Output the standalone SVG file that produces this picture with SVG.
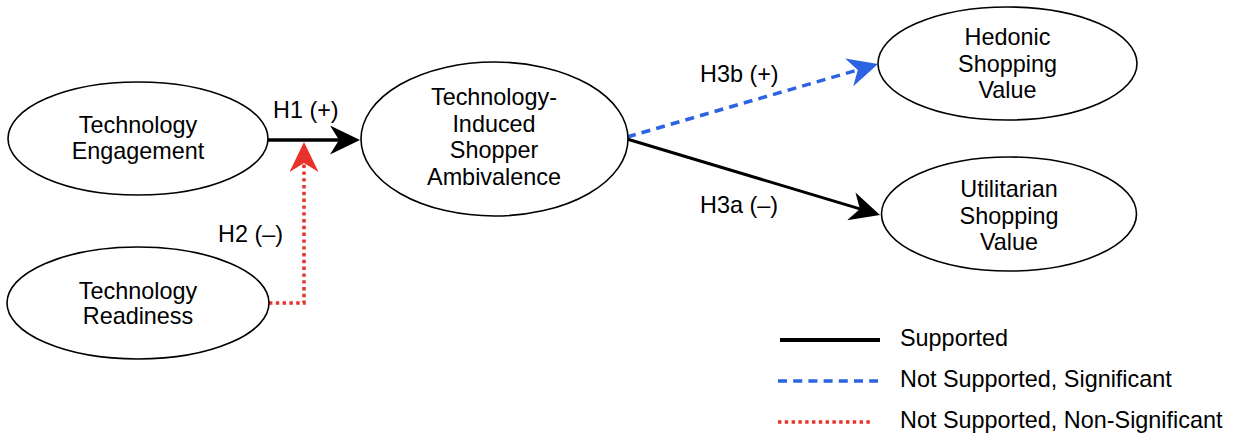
<svg xmlns="http://www.w3.org/2000/svg" width="1237" height="438" viewBox="0 0 1237 438">
  <style>
    .node ellipse { fill: #ffffff; stroke: #000000; stroke-width: 1.6; }
    text { font-family: "Liberation Sans", Arial, Helvetica, sans-serif; font-size: 23.4px; fill: #000000; }
    .node text { text-anchor: middle; }
    .supported { fill: none; stroke: #000000; stroke-width: 3.5; }
    .significant { fill: none; stroke: #2b63e0; stroke-width: 3.5; stroke-dasharray: 9 6.2; }
    .nonsig { fill: none; stroke: #e8322b; stroke-width: 3.5; stroke-dasharray: 3.4 3.4; }
  </style>
  <defs>
    <marker id="arrow-black" viewBox="0 0 30 29" refX="9" refY="14.5" markerWidth="30" markerHeight="29" markerUnits="userSpaceOnUse" orient="auto">
      <path d="M0,0 L30,14.5 L0,29 L9,14.5 Z" fill="#000000"/>
    </marker>
    <marker id="arrow-blue" viewBox="0 0 30 29" refX="9" refY="14.5" markerWidth="30" markerHeight="29" markerUnits="userSpaceOnUse" orient="auto">
      <path d="M0,0 L30,14.5 L0,29 L9,14.5 Z" fill="#2b63e0"/>
    </marker>
    <marker id="arrow-red" viewBox="0 0 30 29" refX="9" refY="14.5" markerWidth="30" markerHeight="29" markerUnits="userSpaceOnUse" orient="auto">
      <path d="M0,0 L30,14.5 L0,29 L9,14.5 Z" fill="#e8322b"/>
    </marker>
  </defs>

  <!-- hypothesised paths -->
  <g id="connectors">
    <line id="h1" class="supported" x1="268" y1="140" x2="339" y2="140" marker-end="url(#arrow-black)"/>
    <path id="h2" class="nonsig" d="M269,303 H304 V163" marker-end="url(#arrow-red)"/>
    <line id="h3b" class="significant" x1="627" y1="137" x2="857.8" y2="69.9" marker-end="url(#arrow-blue)"/>
    <line id="h3a" class="supported" style="stroke-width:3" x1="627" y1="139" x2="859.9" y2="208.9" marker-end="url(#arrow-black)"/>
    <text x="273" y="118">H1 (+)</text>
    <text x="218" y="242">H2 (–)</text>
    <text x="700" y="82">H3b (+)</text>
    <text x="700" y="213">H3a (–)</text>
  </g>

  <g id="technology-engagement" class="node">
    <ellipse cx="138" cy="138.5" rx="130" ry="56.5"/>
    <text x="138" y="133">Technology</text>
    <text x="138" y="159">Engagement</text>
  </g>

  <g id="technology-readiness" class="node">
    <ellipse cx="138" cy="303" rx="131" ry="56"/>
    <text x="138" y="299">Technology</text>
    <text x="138" y="324">Readiness</text>
  </g>

  <g id="shopper-ambivalence" class="node">
    <ellipse cx="494.5" cy="139" rx="133.5" ry="77"/>
    <text x="494" y="105">Technology-</text>
    <text x="494" y="132">Induced</text>
    <text x="494" y="158">Shopper</text>
    <text x="494" y="185">Ambivalence</text>
  </g>

  <g id="hedonic-value" class="node">
    <ellipse cx="1007.5" cy="63.5" rx="129.5" ry="56.5"/>
    <text x="1007.5" y="45">Hedonic</text>
    <text x="1007.5" y="72">Shopping</text>
    <text x="1007.5" y="98">Value</text>
  </g>

  <g id="utilitarian-value" class="node">
    <ellipse cx="1009" cy="214" rx="127.5" ry="57"/>
    <text x="1009" y="197">Utilitarian</text>
    <text x="1009" y="224">Shopping</text>
    <text x="1009" y="250">Value</text>
  </g>

  <!-- key to line styles -->
  <g id="legend">
    <line class="supported" style="stroke-width:4" x1="780" y1="340" x2="880" y2="340"/>
    <text x="900" y="346">Supported</text>
    <line class="significant" x1="778" y1="381" x2="878" y2="381"/>
    <text x="900" y="387">Not Supported, Significant</text>
    <line class="nonsig" x1="778" y1="422" x2="872" y2="422"/>
    <text x="900" y="428">Not Supported, Non-Significant</text>
  </g>
</svg>
